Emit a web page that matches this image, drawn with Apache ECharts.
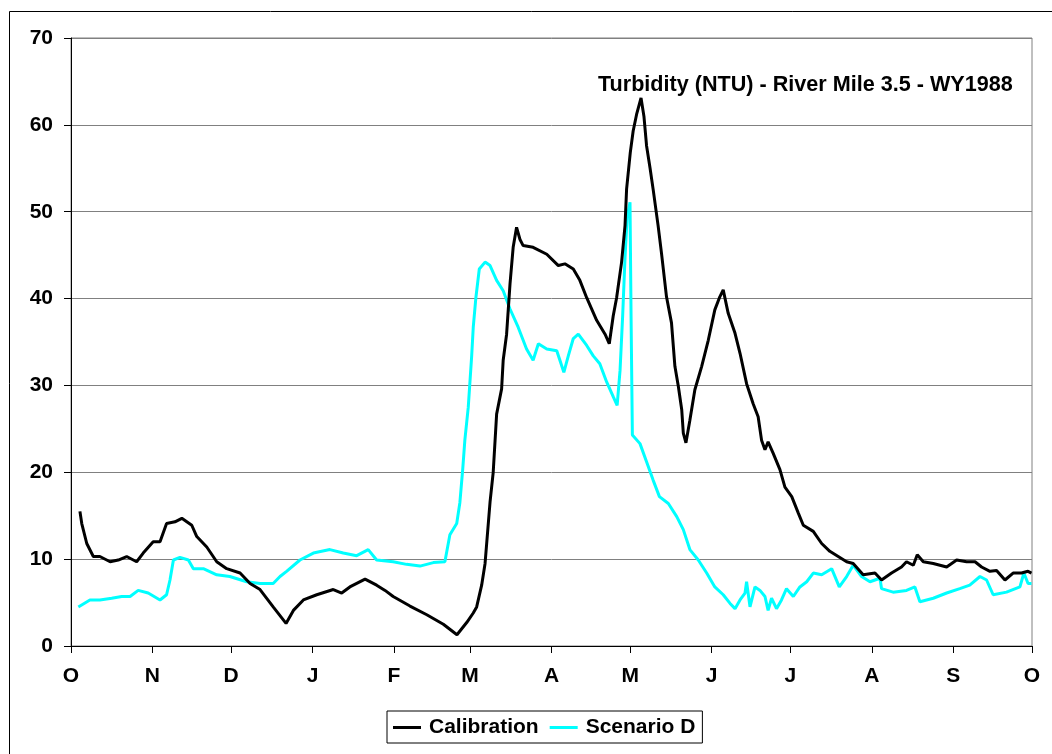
<!DOCTYPE html>
<html>
<head>
<meta charset="utf-8">
<script src="https://cdn.jsdelivr.net/npm/echarts@6/dist/echarts.min.js"></script>
<style>
html,body{margin:0;padding:0;background:#fff;}
#chart{width:1052px;height:754px;}
</style>
</head>
<body>
<div id="chart"></div>
<script>
// Day of water year (0 = Oct 1, 1987) and turbidity (NTU)
var calDays = [3.4,4.1,6.0,8.5,11.0,14.9,18.0,21.2,25.0,27.5,31.3,33.9,36.4,39.6,42.2,46.0,47.9,51.7,55.5,59.3,64.4,68.2,72.0,77.0,81.9,84.7,88.5,93.6,99.9,103.1,106.2,112.0,116.4,119.6,122.7,129.1,135.5,141.8,147.0,150.7,153.2,154.5,156.4,157.7,159.6,160.8,162.1,164.0,164.6,165.9,167.2,168.4,169.7,171.0,172.2,176.0,181.2,185.6,188.1,191.3,193.8,196.4,200.2,203.4,205.0,206.5,207.8,209.7,211.0,211.6,213.0,214.1,215.4,217.1,218.2,219.2,220.5,221.7,223.6,224.9,226.8,228.7,230.0,231.3,232.6,233.2,234.2,235.7,237.6,240.2,242.7,245.2,247.1,248.4,250.3,252.9,254.8,257.3,259.8,261.7,263.0,264.3,265.5,267.4,270.0,271.9,274.5,277.0,278.9,282.7,285.9,289.0,292.2,295.4,297.9,301.7,306.2,308.7,312.5,316.3,318.2,320.8,322.3,324.6,328.4,333.5,337.3,341.1,344.3,346.8,350.0,352.5,355.7,358.8,362.0,364.5,365.8];
var calValues = [15.5,14.1,11.8,10.3,10.3,9.7,9.9,10.3,9.7,10.7,12.0,12.0,14.1,14.3,14.7,13.9,12.6,11.4,9.7,8.9,8.4,7.2,6.5,4.5,2.6,4.1,5.3,5.9,6.5,6.1,6.8,7.7,7.0,6.4,5.7,4.6,3.6,2.5,1.3,2.7,3.8,4.5,7.0,9.5,16.6,20.0,26.7,29.6,32.9,35.9,41.7,45.9,48.2,46.8,46.1,45.9,45.1,43.8,44.0,43.4,42.1,40.1,37.5,35.9,34.8,38.0,40.1,44.2,48.4,52.6,56.8,59.3,61.2,63.1,61.0,57.6,55.1,52.6,48.4,45.2,40.2,37.2,32.2,29.9,27.2,24.5,23.4,26.0,29.5,32.2,35.2,38.7,40.2,41.0,38.3,36.0,33.7,30.2,27.9,26.4,23.7,22.6,23.5,22.2,20.3,18.3,17.2,15.3,13.9,13.2,11.8,10.9,10.3,9.7,9.5,8.2,8.4,7.6,8.4,9.1,9.7,9.3,10.5,9.7,9.5,9.1,9.9,9.7,9.7,9.1,8.6,8.7,7.6,8.4,8.4,8.6,8.4];

var scnDays = [2.8,7.2,11.0,15.5,19.3,22.5,25.6,29.4,33.9,36.4,37.7,39.0,41.5,44.7,46.6,50.4,55.5,60.5,66.9,72.0,77.0,79.6,82.1,87.2,92.3,98.6,103.7,108.8,113.2,116.4,122.7,127.8,132.9,138.0,142.4,143.1,144.3,146.9,148.1,149.2,150.0,151.3,152.6,153.2,154.2,155.5,157.7,159.6,162.1,164.6,167.2,170.3,173.5,176.0,178.0,181.2,185.0,186.2,187.7,189.4,191.3,193.2,196.4,198.9,201.4,204.0,206.5,208.0,209.1,210.1,211.0,211.8,212.9,213.3,213.8,216.7,219.2,221.7,224.1,227.5,230.7,233.2,235.7,238.9,242.1,245.2,248.4,251.0,252.9,254.8,256.7,257.3,258.6,260.5,262.4,264.3,265.5,266.8,268.7,270.6,272.5,275.1,277.6,280.2,282.7,285.9,289.7,292.6,295.4,297.9,301.1,304.3,308.1,308.7,313.1,318.2,321.4,323.3,328.4,333.5,338.5,342.3,346.2,348.7,351.2,356.3,361.4,362.9,364.5,365.8];
var scnValues = [4.5,5.3,5.3,5.5,5.7,5.7,6.4,6.1,5.3,5.9,7.6,9.9,10.2,9.9,8.9,8.9,8.2,8.0,7.4,7.2,7.2,8.0,8.6,9.9,10.7,11.1,10.7,10.4,11.1,9.9,9.7,9.4,9.2,9.6,9.7,9.7,12.8,14.1,16.5,20.4,23.7,27.5,33.4,36.7,40.1,43.4,44.2,43.8,42.1,40.9,38.8,36.7,34.2,32.9,34.8,34.2,34.0,32.9,31.5,33.4,35.4,35.9,34.6,33.4,32.5,30.4,28.7,27.7,31.7,38.0,44.7,49.3,51.1,38.0,24.3,23.3,21.2,19.1,17.2,16.4,14.9,13.4,11.1,9.9,8.4,6.8,5.9,4.9,4.3,5.3,6.1,7.4,4.5,6.8,6.4,5.7,4.1,5.5,4.3,5.3,6.6,5.7,6.8,7.4,8.4,8.2,8.9,6.8,8.0,9.3,8.0,7.4,7.8,6.6,6.2,6.4,6.8,5.1,5.5,6.1,6.6,7.0,8.0,7.6,5.9,6.2,6.8,8.4,7.2,7.2];

var monthStarts = [0,31,61,92,123,152,183,213,244,274,305,336,366];
var monthLabels = ['O','N','D','J','F','M','A','M','J','J','A','S','O'];
var yTicks = [0,10,20,30,40,50,60,70];
var titleText = 'Turbidity (NTU) - River Mile 3.5 - WY1988';
var seriesNames = ['Calibration','Scenario D'];

function zip(a,b){var r=[];for(var i=0;i<a.length;i++){r.push([a[i],b[i]]);}return r;}

var FONT = 'Liberation Sans, Arial, sans-serif';
var chart = echarts.init(document.getElementById('chart'), null, {renderer:'canvas'});
chart.setOption({
  animation:false,
  backgroundColor:'#fff',
  graphic:[{type:'rect',left:7,top:9,shape:{x:0,y:0,width:1100,height:800},style:{fill:'none',stroke:'#000',lineWidth:1},silent:true,z:-1}],
  title:{text:titleText,left:598,top:74,padding:0,textStyle:{fontFamily:FONT,fontSize:21.6,fontWeight:'bold',color:'#000'}},
  legend:{
    left:387,top:711,padding:[6,7,5,6],borderColor:'#000',borderWidth:1,
    icon:'rect',itemWidth:28,itemHeight:3,itemGap:11,
    textStyle:{fontFamily:FONT,fontSize:21,fontWeight:'bold',color:'#000',padding:[0,0,0,3]},
    data:seriesNames
  },
  grid:{left:71,right:20,top:38,bottom:108,show:true,borderColor:'#808080',borderWidth:1,containLabel:false},
  xAxis:{
    type:'value',min:0,max:366,
    axisLine:{show:true,lineStyle:{color:'#000',width:1}},
    axisTick:{show:true,length:7,lineStyle:{color:'#000'},customValues:monthStarts},
    axisLabel:{customValues:monthStarts,margin:20,fontFamily:FONT,fontSize:21,fontWeight:'bold',color:'#000',
      formatter:function(v){var i=monthStarts.indexOf(Math.round(v));return i>=0?monthLabels[i]:'';}},
    splitLine:{show:false}
  },
  yAxis:{
    type:'value',min:0,max:70,interval:10,
    axisLine:{show:true,lineStyle:{color:'#000',width:1}},
    axisTick:{show:true,length:7,lineStyle:{color:'#000'}},
    axisLabel:{margin:18,fontFamily:FONT,fontSize:21,fontWeight:'bold',color:'#000',
      formatter:function(v){return yTicks.indexOf(v)>=0?String(v):'';}},
    splitLine:{show:true,lineStyle:{color:'#808080',width:1}}
  },
  series:[
    {name:seriesNames[0],type:'line',data:zip(calDays,calValues),symbol:'none',showSymbol:false,
     lineStyle:{color:'#000',width:3},itemStyle:{color:'#000'},z:3},
    {name:seriesNames[1],type:'line',data:zip(scnDays,scnValues),symbol:'none',showSymbol:false,
     lineStyle:{color:'#00FFFF',width:3},itemStyle:{color:'#00FFFF'},z:2}
  ]
});
</script>
</body>
</html>
